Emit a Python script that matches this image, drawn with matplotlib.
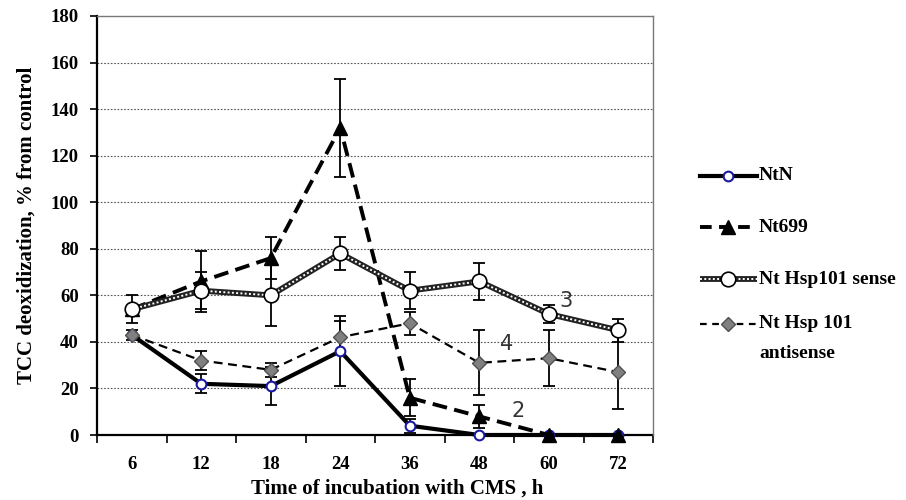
import matplotlib
matplotlib.use("Agg")
import matplotlib.pyplot as plt
import numpy as np

categories = ["6", "12", "18", "24", "36", "48", "60", "72"]

ntn = [43, 22, 21, 36, 4, 0, 0, 0]
ntn_err = [0, 4, 8, 15, 3, 0, 0, 0]

nt699 = [54, 66, 76, 132, 16, 8, 0, 0]
nt699_err = [0, 13, 9, 21, 8, 5, 0, 0]

sense = [54, 62, 60, 78, 62, 66, 52, 45]
sense_err = [6, 8, 13, 7, 8, 8, 4, 5]

antisense = [43, 32, 28, 42, 48, 31, 33, 27]
antisense_err = [2, 4, 3, 7, 5, 14, 12, 16]

yticks = [0, 20, 40, 60, 80, 100, 120, 140, 160, 180]
legend_labels = ["NtN", "Nt699", "Nt Hsp101 sense", "Nt Hsp 101\nantisense"]
annotations = [("3", 6.25, 57.5), ("4", 5.39, 39), ("2", 5.56, 10.5)]

serif = "Liberation Serif"

W, H = 906, 500
fig = plt.figure(figsize=(W / 100, H / 100), dpi=100)
ax = fig.add_axes([97 / W, 1 - 435 / H, (653 - 97) / W, (435 - 16) / H])

x = np.arange(len(categories))

ax.set_ylim(0, 180)
ax.set_xlim(-0.5, len(categories) - 0.5)
for yv in yticks[1:-1]:
    ax.axhline(yv, color="#555555", lw=0.8, ls=(0, (1.5, 1.5)), zorder=0)

eb_kw = dict(ecolor="black", elinewidth=1.3, capsize=4, capthick=1.3, fmt="none", zorder=2)
ax.errorbar(x, ntn, yerr=ntn_err, **eb_kw)
ax.errorbar(x, nt699, yerr=nt699_err, **eb_kw)
ax.errorbar(x, sense, yerr=sense_err, **eb_kw)
ax.errorbar(x, antisense, yerr=antisense_err, **eb_kw)

# NtN
ax.plot(x, ntn, color="black", lw=3, zorder=3, clip_on=False)
ax.plot(x, ntn, ls="none", marker="o", ms=7, mfc="white", mec="#1a1aa0", mew=1.5, zorder=4, clip_on=False)
# Nt699
ax.plot(x, nt699, color="black", lw=2.8, dashes=(3.8, 1.9), zorder=5, clip_on=False)
ax.plot(x, nt699, ls="none", marker="^", ms=10, mfc="black", mec="black", zorder=6, clip_on=False)
# sense (textured line)
ax.plot(x, sense, color="#222222", lw=4.2, zorder=7, solid_capstyle="butt")
ax.plot(x, sense, color="white", lw=1.4, ls=(0, (1, 1.2)), zorder=7)
ax.plot(x, sense, ls="none", marker="o", ms=10.5, mfc="white", mec="black", mew=1.2, zorder=8)
# antisense
ax.plot(x, antisense, color="black", lw=1.6, dashes=(4, 2.5), zorder=9)
ax.plot(x, antisense, ls="none", marker="D", ms=7.5, mfc="#808080", mec="#505050", mew=1, zorder=10)

for txt, xa, ya in annotations:
    ax.text(xa, ya, txt, fontsize=15, family="DejaVu Sans", color="#333333",
            ha="center", va="center", zorder=11)

ax.set_yticks(yticks)
ax.set_yticklabels([str(v) for v in yticks], fontsize=13.5, family=serif, fontweight="bold")
ax.set_xticks(x)
ax.set_xticklabels(categories, fontsize=13.5, family=serif, fontweight="bold")
ax.set_xticks(np.arange(-0.5, len(categories)), minor=True)
ax.tick_params(axis="x", which="major", length=0, pad=15)
ax.tick_params(axis="x", which="minor", length=6, width=1.2, direction="out")
ax.tick_params(axis="y", length=5, width=1.2, direction="out", pad=8)
for s in ["left", "bottom"]:
    ax.spines[s].set_linewidth(1.6)
    ax.spines[s].set_color("black")
    ax.spines[s].set_zorder(1)
for s in ["top", "right"]:
    ax.spines[s].set_linewidth(1.0)
    ax.spines[s].set_color("#777777")

ax.set_xlabel("Time of incubation with CMS , h", fontsize=15, family=serif,
              fontweight="bold")
ax.xaxis.set_label_coords(0.54, -0.105)
ax.set_ylabel("TCC deoxidization, % from control", fontsize=15, family=serif,
              fontweight="bold", labelpad=10)

# manual legend in pixel coordinates
lax = fig.add_axes([0, 0, 1, 1])
lax.set_xlim(0, W)
lax.set_ylim(H, 0)
lax.axis("off")
lx0, lx1, lxm, ltx = 700, 757, 728, 759
ly = [176, 227, 279, 324]
styles = [
    dict(line=dict(color="black", lw=3), mk=dict(marker="o", ms=7, mfc="white", mec="#1a1aa0", mew=1.5)),
    dict(line=dict(color="black", lw=2.8, dashes=(3.0, 1.9)), mk=dict(marker="^", ms=10, mfc="black", mec="black")),
    None,
    dict(line=dict(color="black", lw=1.6, dashes=(3, 2.5)), mk=dict(marker="D", ms=7, mfc="#808080", mec="#505050", mew=1)),
]
for i, (lab, yy) in enumerate(zip(legend_labels, ly)):
    if styles[i] is None:
        lax.plot([lx0, lx1], [yy, yy], color="#222222", lw=4.2, solid_capstyle="butt")
        lax.plot([lx0, lx1], [yy, yy], color="white", lw=1.4, ls=(0, (1, 1.2)))
        lax.plot([lxm], [yy], marker="o", ms=10.5, mfc="white", mec="black", mew=1.2)
    else:
        lax.plot([lx0, lx1], [yy, yy], **styles[i]["line"])
        lax.plot([lxm], [yy], ls="none", **styles[i]["mk"])
    lines = lab.split("\n")
    for j, part in enumerate(lines):
        lax.text(ltx, yy + 29 * j, part, fontsize=14, family=serif, fontweight="bold",
                 ha="left", va="center")

fig.savefig("out.png", dpi=100)
